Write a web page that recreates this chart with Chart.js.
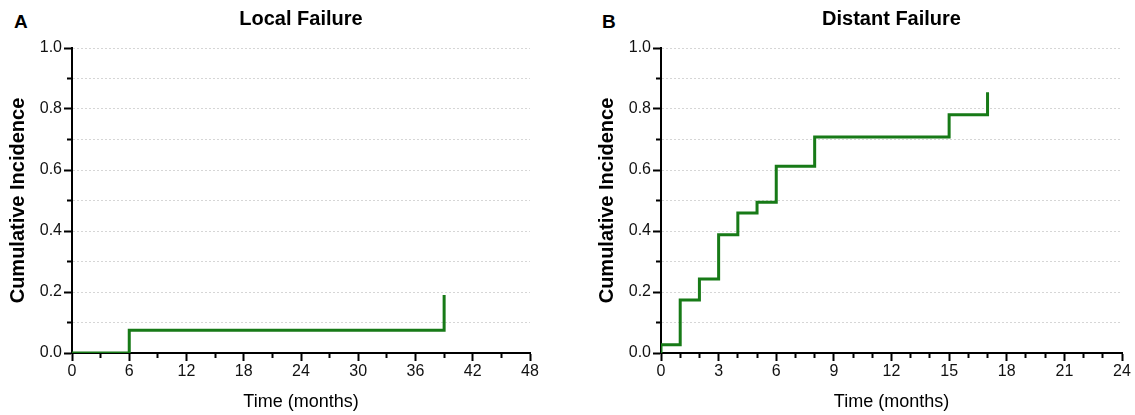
<!DOCTYPE html>
<html>
<head>
<meta charset="utf-8">
<script src="https://cdn.jsdelivr.net/npm/chart.js@4.4.1/dist/chart.umd.min.js"></script>
<style>
  html, body { margin: 0; padding: 0; background: #fff; }
  body { width: 1135px; height: 415px; position: relative; overflow: hidden; font-family: "Liberation Sans", Arial, sans-serif; }
  .panel { position: absolute; top: 0; }
  .letter { position: absolute; top: 11px; font-weight: bold; font-size: 19px; color: #000; }
</style>
</head>
<body>
<div class="letter" style="left:14px">A</div>
<div class="letter" style="left:602px">B</div>
<div class="panel" style="left:0"><canvas id="localChart" width="565" height="415"></canvas></div>
<div class="panel" style="left:589px"><canvas id="distantChart" width="546" height="415"></canvas></div>
<script>
// step data (time in months, cumulative incidence)
const localTime = [0, 6, 39];
const localIncidence = [0, 0.075, 0.19];

const distantTime = [0, 0, 1, 2, 3, 4, 5, 6, 8, 15, 17];
const distantIncidence = [0, 0.027, 0.174, 0.243, 0.388, 0.459, 0.494, 0.612, 0.708, 0.781, 0.855];

const yTicks = [0, 0.2, 0.4, 0.6, 0.8, 1.0];   // labelled ticks, minor every 0.1
const localXMax = 48, localXStep = 3, localXLabelEvery = 6;
const distantXMax = 24, distantXStep = 1, distantXLabelEvery = 3;

const GREEN = '#177a17';
Chart.defaults.font.family = '"Liberation Sans", Arial, sans-serif';
Chart.defaults.color = '#111';

function makeChart(id, title, times, values, xMax, xStep, labelEvery, padRight) {
  const pts = times.map((t, i) => ({ x: t, y: values[i] }));
  const isMajorY = v => yTicks.some(t => Math.abs(t - v) < 1e-6);
  return new Chart(document.getElementById(id), {
    type: 'line',
    data: {
      datasets: [{
        data: pts,
        stepped: 'before',
        borderColor: GREEN,
        borderWidth: 3,
        pointRadius: 0,
        fill: false
      }]
    },
    options: {
      responsive: false,
      animation: false,
      layout: { padding: { left: 0, right: padRight, top: 0, bottom: 0 } },
      plugins: {
        legend: { display: false },
        tooltip: { enabled: false },
        title: {
          display: true,
          text: title,
          fullSize: false,
          color: '#000',
          font: { size: 20, weight: 'bold' },
          padding: { top: 7, bottom: 17 }
        }
      },
      scales: {
        x: {
          type: 'linear',
          min: 0,
          max: xMax,
          afterFit: s => { s.height = 62; },
          border: { display: true, color: '#000', width: 2 },
          grid: {
            drawOnChartArea: false,
            drawTicks: true,
            tickLength: 8,
            tickWidth: 2,
            tickColor: '#000',
            tickBorderDash: c => (c.tick && c.tick.value % labelEvery === 0) ? [] : [4, 10]
          },
          ticks: {
            stepSize: xStep,
            autoSkip: false,
            maxRotation: 0,
            padding: 1,
            color: '#111',
            font: { size: 16 },
            callback: v => (v % labelEvery === 0 ? String(v) : '')
          },
          title: {
            display: true,
            text: 'Time (months)',
            color: '#000',
            font: { size: 18 },
            padding: { top: 0, bottom: 2 }
          }
        },
        y: {
          min: 0,
          max: 1,
          afterFit: s => { s.width = 72; },
          border: { display: true, color: '#000', width: 2, dash: [2, 2] },
          grid: {
            color: c => (c.tick && c.tick.value === 0) ? 'rgba(0,0,0,0)' : '#d6d6d6',
            lineWidth: 1,
            tickLength: 8,
            tickWidth: 2,
            tickColor: '#000',
            tickBorderDash: c => (c.tick && isMajorY(c.tick.value)) ? [] : [0, 3, 4, 10]
          },
          ticks: {
            stepSize: 0.1,
            autoSkip: false,
            padding: 2,
            color: '#111',
            font: { size: 16 },
            callback: v => (isMajorY(v) ? v.toFixed(1) : '')
          },
          title: {
            display: true,
            text: 'Cumulative Incidence',
            color: '#000',
            font: { size: 20, weight: 'bold' },
            padding: { top: 6, bottom: 0 }
          }
        }
      }
    }
  });
}

makeChart('localChart', 'Local Failure', localTime, localIncidence, localXMax, localXStep, localXLabelEvery, 35);
makeChart('distantChart', 'Distant Failure', distantTime, distantIncidence, distantXMax, distantXStep, distantXLabelEvery, 13);
</script>
</body>
</html>
